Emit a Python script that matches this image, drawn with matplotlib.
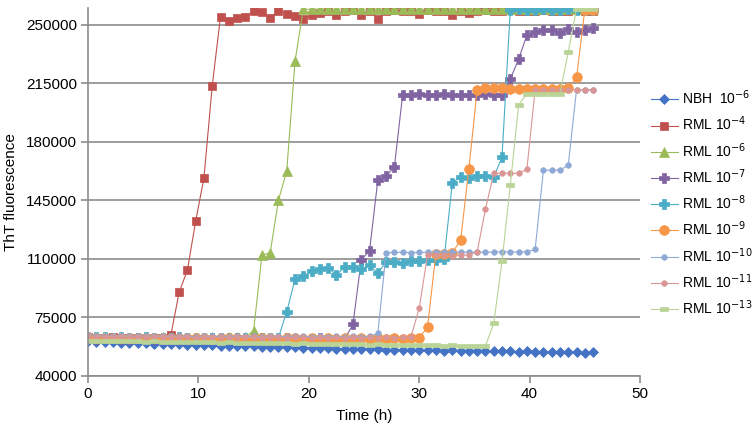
import matplotlib
matplotlib.use("Agg")
import matplotlib.pyplot as plt
from matplotlib.path import Path

plt.rcParams['font.family'] = ['Liberation Sans', 'DejaVu Sans']

# sampling times (h), every 45 min
time_h = [0, 0.75, 1.5, 2.25, 3, 3.75, 4.5, 5.25, 6, 6.75, 7.5, 8.25, 9, 9.75,
          10.5, 11.25, 12, 12.75, 13.5, 14.25, 15, 15.75, 16.5, 17.25, 18, 18.75,
          19.5, 20.25, 21, 21.75, 22.5, 23.25, 24, 24.75, 25.5, 26.25, 27, 27.75,
          28.5, 29.25, 30, 30.75, 31.5, 32.25, 33, 33.75, 34.5, 35.25, 36, 36.75,
          37.5, 38.25, 39, 39.75, 40.5, 41.25, 42, 42.75, 43.5, 44.25, 45, 45.75]

nbh_6 = [60500, 60000, 59800, 59900, 59600, 59500, 59300, 59400, 59100, 59000,
         58800, 58900, 58500, 58400, 58200, 58300, 57900, 57800, 57700, 57500,
         57600, 57200, 57100, 57000, 56800, 56900, 56600, 56500, 56300, 56400,
         56100, 56000, 55900, 55800, 55900, 55600, 55500, 55400, 55500, 55200,
         55100, 55200, 55000, 54900, 55000, 54800, 54700, 54800, 54600, 54500,
         54600, 54400, 54300, 54500, 54200, 54100, 54300, 54000, 53800, 54000,
         53700, 53900]

rml_4 = [63000, 62300, 62500, 62800, 62200, 62400, 62600, 62000, 62300, 62500,
         64000, 89800, 103000, 132400, 158300, 213400, 254900, 252500, 254300, 254500,
         258300, 257700, 254100, 258300, 256700, 255000, 253700, 255800, 257300, 258500,
         255600, 258500, 258600, 256100, 258400, 253700, 258500, 258600, 258400, 258500,
         256700, 258600, 258500, 258400, 256100, 258500, 257300, 258500, 258600, 258400,
         258500, 258600, 258400, 258500, 258500, 258600, 258400, 258500, 258500, 258600,
         258400, 258500]

rml_6 = [62800, 62500, 63000, 62600, 62900, 62400, 62700, 63000, 62500, 62800,
         62600, 62900, 62400, 62700, 62500, 62800, 62600, 62900, 63000, 63200,
         66800, 112100, 113500, 145000, 162500, 228200, 259300, 259200, 259400, 259300,
         259200, 259400, 259300, 259200, 259300, 259400, 259200, 259300, 259400, 259300,
         259200, 259300, 259400, 259300, 259200, 259300, 259400, 259300, 259200, 259300,
         259400, 259300, 259200, 259300, 259400, 259300, 259200, 259300, 259400, 259300,
         259200, 259300]

rml_7 = [62300, 62000, 62200, 62400, 62100, 62000, 62300, 62200, 61900, 62100,
         62200, 62000, 62300, 62100, 61900, 62200, 62000, 62100, 62300, 62000,
         61900, 62200, 62100, 62000, 62200, 61900, 62100, 62000, 62200, 61800,
         62100, 62000, 70600, 109300, 114700, 157000, 159400, 164900, 208200, 208200,
         208400, 208000, 208200, 208300, 208100, 208200, 208000, 208200, 208300, 208100,
         207800, 217400, 229400, 243700, 245700, 246700, 247100, 245300, 247500, 245700,
         247100, 248100]

rml_8 = [63200, 62800, 62900, 62600, 62800, 62700, 62500, 62800, 62600, 62700,
         62500, 62800, 62600, 62400, 62700, 62500, 62600, 62400, 62700, 62500,
         62600, 62400, 62500, 62700, 78200, 97600, 99500, 102500, 103500, 104500,
         100100, 105100, 105100, 103500, 106100, 101100, 108100, 108100, 107500, 108500,
         108500, 109100, 109100, 109500, 155400, 159000, 158000, 159200, 159200, 158600,
         170900, 259000, 259200, 259100, 259000, 259200, 259100, 259000, 259200, 259100,
         259000, 259100]

rml_9 = [62800, 62500, 62700, 62400, 62600, 62300, 62500, 62400, 62200, 62500,
         62300, 62400, 62200, 62400, 62300, 62100, 62400, 62200, 62300, 62100,
         62300, 62200, 62400, 62100, 62300, 62200, 62000, 62300, 62100, 62200,
         62000, 62300, 62100, 62200, 62000, 62200, 62100, 62300, 62000, 62200,
         62700, 68800, 112500, 112500, 113500, 121100, 163900, 211100, 212200, 212200,
         212200, 211800, 211800, 211800, 211500, 211500, 211500, 211500, 212000, 218400,
         259000, 259000]

rml_10 = [64500, 63800, 63600, 63900, 63500, 63700, 63400, 63800, 63500, 63600,
          63400, 63700, 63500, 63300, 63600, 63400, 63500, 63300, 63600, 63400,
          63500, 63300, 63600, 63400, 63300, 63500, 63400, 63200, 63500, 63300,
          63400, 63200, 63500, 63300, 63400, 65200, 113500, 113700, 113800, 113600,
          113800, 113700, 113900, 113800, 113700, 113900, 113800, 114000, 113800, 113900,
          114100, 113900, 114000, 114100, 115500, 162900, 162900, 162900, 166000, 211100,
          211000, 211000]

rml_11 = [63600, 63200, 63000, 63300, 62900, 63100, 62800, 63200, 62900, 63000,
          62800, 63100, 62900, 62700, 63000, 62800, 62900, 62700, 63000, 62800,
          62900, 62700, 63000, 62800, 62700, 62900, 62800, 62600, 62900, 62700,
          62800, 62600, 62900, 62700, 62800, 62600, 62900, 62700, 62800, 63200,
          80200, 112100, 112000, 112000, 111800, 112200, 112000, 114000, 139600, 161000,
          161000, 161000, 161000, 163400, 211100, 211000, 211100, 211000, 211100, 211000,
          211100, 211000]

rml_13 = [60800, 60700, 60600, 60700, 60500, 60400, 60500, 60300, 60400, 60200,
          60100, 60200, 60000, 59900, 60000, 59800, 59700, 59800, 59600, 59500,
          59600, 59400, 59300, 59400, 59200, 59100, 59200, 59000, 58900, 59000,
          58800, 58700, 58800, 58600, 58500, 58600, 58400, 58300, 58400, 58200,
          58100, 58200, 58000, 57900, 58000, 57800, 57700, 57800, 57600, 71200,
          108500, 154000, 201800, 208800, 208800, 208800, 208800, 208800, 233700, 259500,
          259500, 259500]

series = [nbh_6, rml_4, rml_6, rml_7, rml_8, rml_9, rml_10, rml_11, rml_13]
labels = [r'NBH  10$^{-6}$', r'RML 10$^{-4}$', r'RML 10$^{-6}$', r'RML 10$^{-7}$',
          r'RML 10$^{-8}$', r'RML 10$^{-9}$', r'RML 10$^{-10}$', r'RML 10$^{-11}$',
          r'RML 10$^{-13}$']
colors = ['#4472C4', '#C0504D', '#9BBB59', '#8064A2', '#4BACC6', '#F79646',
          '#8FA9D6', '#D99694', '#B9D496']

pill = Path([(-1, -0.45), (1, -0.45), (1, 0.45), (-1, 0.45), (-1, -0.45)])
markers = ['D', 's', '^', 'P', 'P', 'o', 'o', 'o', pill]
sizes = [5.5, 6, 6.5, 6.5, 6.5, 7, 4, 4, 6]

fig = plt.figure(figsize=(7.55, 4.30), dpi=100)
ax = fig.add_axes([0.1166, 0.1267, 0.7311, 0.8547])

for vals, lab, col, mk, ms in zip(series, labels, colors, markers, sizes):
    ax.plot(time_h, vals, color=col, lw=0.8, marker=mk, markersize=ms,
            markerfacecolor=col, markeredgecolor=col, markeredgewidth=0.5, label=lab)

ax.set_xlim(0, 50)
ax.set_ylim(40000, 260000)
ax.set_xticks([0, 10, 20, 30, 40, 50])
ax.set_yticks([40000, 75000, 110000, 145000, 180000, 215000, 250000])
ax.yaxis.grid(True, color='#8C8C8C', lw=1.2)
ax.set_axisbelow(True)
for s in ['top', 'right']:
    ax.spines[s].set_visible(False)
for s in ['left', 'bottom']:
    ax.spines[s].set_color('#8C8C8C')
    ax.spines[s].set_linewidth(1.2)
ax.tick_params(colors='#8C8C8C', labelcolor='black', labelsize=11, length=5, width=1.2, pad=3)
ax.set_xlabel('Time (h)', fontsize=11, labelpad=6)
ax.set_ylabel('ThT fluorescence', fontsize=11, labelpad=6)

leg = ax.legend(loc='center left', bbox_to_anchor=(1.0, 0.47), frameon=False, fontsize=10,
                handlelength=1.9, labelspacing=0.55, handletextpad=0.3,
                borderaxespad=0.6, borderpad=0.2)

fig.savefig('out.png', dpi=100)
